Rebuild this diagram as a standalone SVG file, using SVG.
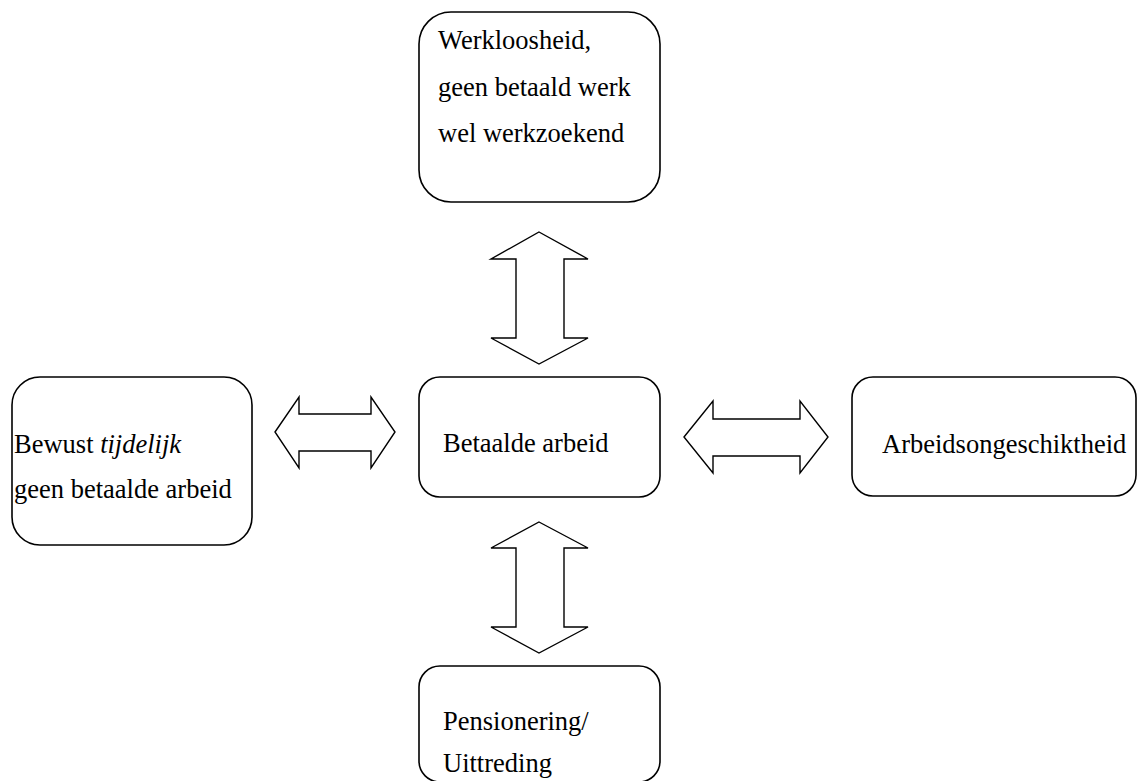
<svg xmlns="http://www.w3.org/2000/svg" width="1138" height="781" viewBox="0 0 1138 781">
<style>
.box{fill:#fff;stroke:#000;stroke-width:1.6}
.arr{fill:#fff;stroke:#000;stroke-width:1.4;stroke-linejoin:miter}
text{font-family:"Liberation Serif","Times New Roman",serif;font-size:26.5px;fill:#000}
</style>
<rect width="1138" height="781" fill="#fff"/>
<g id="connectors">
<polygon class="arr" points="539,232 588,259 564,259 564,338 588,338 539,364 491,338 516,338 516,259 491,259"/>
<polygon class="arr" points="539,522 588,548 564,548 564,627 588,627 539,653 491,627 516,627 516,548 491,548"/>
<polygon class="arr" points="275,432 299,397 299,414 371,414 371,397 395,432 371,468 371,451 299,451 299,468"/>
<polygon class="arr" points="684,437 713,401 713,419 800,419 800,401 828,437 800,473 800,456 713,456 713,473"/>
</g>
<g id="werkloosheid">
<rect class="box" x="419" y="12" width="241" height="190" rx="32" ry="32"/>
<text x="438" y="49">Werkloosheid,</text>
<text x="438" y="96">geen betaald werk</text>
<text x="438" y="142">wel werkzoekend</text>
</g>
<g id="bewust">
<rect class="box" x="12" y="377" width="240" height="168" rx="28" ry="28"/>
<text x="14" y="453">Bewust <tspan font-style="italic">tijdelijk</tspan></text>
<text x="14" y="498">geen betaalde arbeid</text>
</g>
<g id="betaalde">
<rect class="box" x="419" y="377" width="241" height="120" rx="21" ry="21"/>
<text x="443" y="452">Betaalde arbeid</text>
</g>
<g id="arbeidsongeschiktheid">
<rect class="box" x="852" y="377" width="284" height="119" rx="21" ry="21"/>
<text x="882" y="453">Arbeidsongeschiktheid</text>
</g>
<g id="pensionering">
<rect class="box" x="419" y="666" width="241" height="116" rx="21" ry="21"/>
<text x="443" y="730">Pensionering/</text>
<text x="443" y="772">Uittreding</text>
</g>
</svg>
